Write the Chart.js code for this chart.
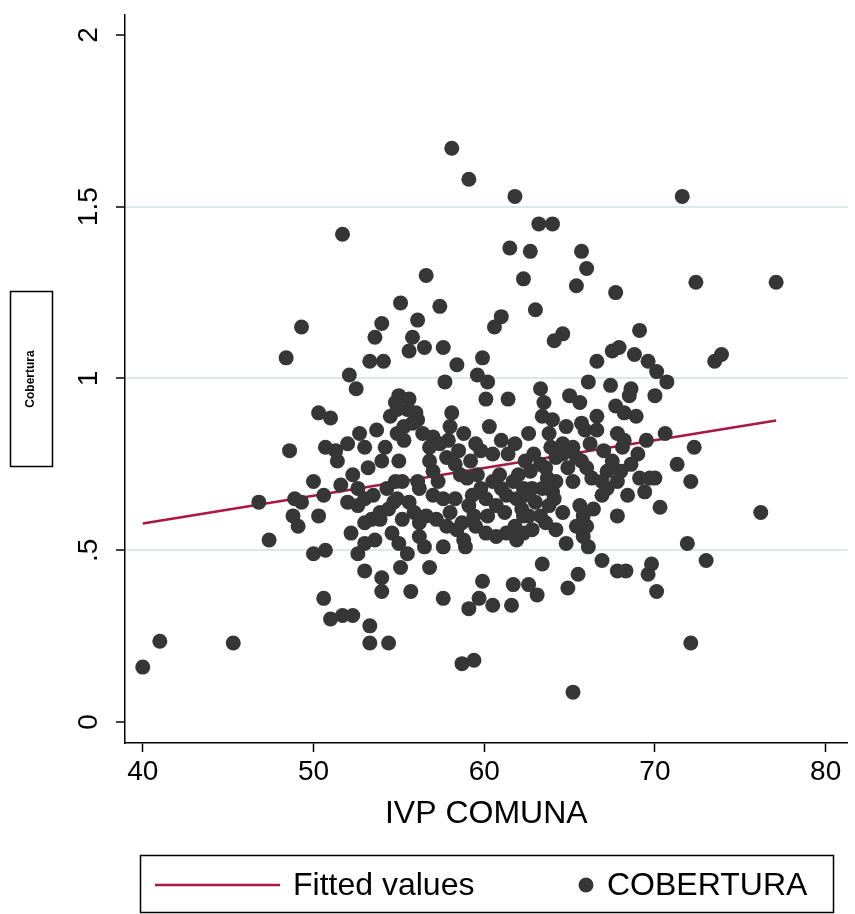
<!DOCTYPE html>
<html>
<head>
<meta charset="utf-8">
<script src="https://cdn.jsdelivr.net/npm/chart.js@4"></script>
<style>
  html, body { margin: 0; padding: 0; background: #fff; }
</style>
</head>
<body>
<canvas id="myChart" width="855" height="914"></canvas>
<script>
// IVP per comuna vs cobertura
var ivp = [
  40.0, 41.0, 45.3, 46.8, 47.4, 49.3, 48.4, 54.0, 53.6, 53.3, 54.1, 52.1, 52.5, 55.0, 55.1,
  57.4, 56.1, 55.8, 55.6, 56.5, 57.6, 61.0, 60.6, 59.9, 59.6, 60.2, 57.7, 58.4, 55.6, 60.1,
  61.4, 62.3, 56.6, 65.4, 67.7, 63.0, 64.1, 64.6, 69.1, 67.5, 67.9, 66.6, 68.8, 69.6, 70.1,
  66.1, 67.4, 63.3, 63.5, 65.0, 65.6, 68.6, 68.5, 70.0, 67.7, 72.4, 77.1, 73.9, 73.5, 70.7,
  50.3, 51.0, 48.6, 50.7, 51.3, 52.0, 51.4, 52.7, 53.7, 54.5, 54.8, 54.0, 50.0, 48.9, 49.3,
  48.8, 50.3, 52.0, 52.6, 53.0, 53.9, 54.7, 54.8, 52.6, 53.4, 54.3, 55.2, 55.5, 56.0, 54.9,
  55.3, 58.1, 58.0, 57.0, 57.4, 56.8, 58.5, 61.0, 59.8, 60.5, 61.4, 59.2, 58.3, 58.6, 59.0,
  57.0, 57.3, 55.2, 56.1, 56.2, 59.8, 60.5, 61.0, 61.7, 60.1, 61.3, 60.7, 62.3, 57.0, 57.6,
  58.3, 54.9, 55.6, 59.1, 59.4, 56.6, 57.2, 56.2, 62.3, 54.9, 56.1, 55.3, 63.4, 64.0, 65.7,
  65.9, 66.6, 66.6, 68.2, 68.9, 67.8, 68.2, 68.1, 69.0, 64.6, 65.2, 64.6, 65.4, 64.2, 65.7,
  63.3, 63.6, 62.4, 67.5, 67.2, 66.3, 66.9, 67.8, 67.2, 66.9, 69.1, 69.7, 69.4, 64.2, 64.0,
  62.8, 63.4, 64.1, 65.6, 65.8, 64.6, 63.3, 62.6, 67.8, 70.3, 70.6, 72.3, 71.3, 70.0, 72.1,
  76.2, 49.1, 50.0, 50.7, 52.2, 53.0, 52.6, 53.0, 53.6, 54.6, 55.0, 55.1, 53.0, 54.0, 54.0,
  50.6, 51.0, 51.7, 52.3, 53.3, 53.3, 54.4, 53.9, 56.2, 56.5, 55.5, 57.6, 58.4, 58.8, 58.9,
  59.5, 60.1, 60.7, 61.3, 61.9, 62.3, 56.8, 55.7, 57.6, 59.9, 61.7, 62.6, 59.7, 59.1, 60.5,
  61.6, 63.4, 63.1, 64.9, 65.5, 66.9, 67.8, 68.3, 66.1, 65.8, 65.4, 62.8, 64.2, 63.6, 69.8,
  69.6, 70.1, 71.9, 73.0, 72.1, 58.7, 59.4, 65.2, 58.1, 59.1, 61.8, 63.2, 64.0, 51.7, 71.6,
  61.5, 62.7, 65.7, 66.0, 59.6, 60.9, 61.9, 62.0, 62.9, 63.9, 64.9, 62.7, 62.4, 63.0,
  55.8, 56.4, 57.9, 58.8, 59.5, 60.3, 61.8, 62.6, 63.8, 64.8, 66.2, 67.0, 68.6, 66.0, 65.2,
  63.7, 62.2, 61.2, 60.2, 58.0, 57.8, 55.9, 54.4, 53.5, 52.3, 53.2, 54.2, 53.0, 56.8, 57.8,
  59.3, 58.7, 61.8, 63.8, 66.4, 68.4, 68.0, 69.5, 66.0, 64.8, 55.0, 51.6, 50.6
];
var cobertura = [
  0.16, 0.235, 0.23, 0.64, 0.53, 1.15, 1.06, 1.16, 1.12, 1.05, 1.05, 1.01, 0.97, 0.95, 1.22,
  1.21, 1.17, 1.12, 1.08, 1.09, 1.09, 1.18, 1.15, 1.06, 1.01, 0.99, 0.99, 1.04, 0.94, 0.94,
  0.94, 1.29, 1.30, 1.27, 1.25, 1.20, 1.11, 1.13, 1.14, 1.08, 1.09, 1.05, 1.07, 1.05, 1.02,
  0.99, 0.98, 0.97, 0.93, 0.95, 0.93, 0.97, 0.95, 0.95, 0.92, 1.28, 1.28, 1.07, 1.05, 0.99,
  0.90, 0.885, 0.79, 0.80, 0.79, 0.81, 0.76, 0.84, 0.85, 0.89, 0.93, 0.76, 0.70, 0.65, 0.64,
  0.60, 0.60, 0.64, 0.68, 0.65, 0.61, 0.64, 0.70, 0.63, 0.59, 0.68, 0.59, 0.91, 0.90, 0.84,
  0.82, 0.90, 0.86, 0.83, 0.81, 0.80, 0.79, 0.82, 0.79, 0.78, 0.78, 0.76, 0.75, 0.72, 0.71,
  0.73, 0.70, 0.70, 0.70, 0.68, 0.68, 0.70, 0.68, 0.70, 0.65, 0.66, 0.63, 0.68, 0.66, 0.65,
  0.65, 0.65, 0.64, 0.63, 0.60, 0.60, 0.59, 0.58, 0.60, 0.91, 0.88, 0.86, 0.89, 0.88, 0.87,
  0.85, 0.89, 0.85, 0.90, 0.89, 0.84, 0.82, 0.80, 0.78, 0.81, 0.80, 0.78, 0.77, 0.77, 0.76,
  0.75, 0.74, 0.76, 0.76, 0.73, 0.71, 0.70, 0.70, 0.68, 0.66, 0.71, 0.71, 0.67, 0.70, 0.67,
  0.68, 0.68, 0.65, 0.63, 0.60, 0.61, 0.60, 0.60, 0.60, 0.625, 0.84, 0.80, 0.75, 0.71, 0.70,
  0.61, 0.57, 0.49, 0.50, 0.55, 0.58, 0.49, 0.52, 0.53, 0.55, 0.52, 0.45, 0.44, 0.42, 0.38,
  0.36, 0.30, 0.31, 0.31, 0.28, 0.23, 0.23, 0.59, 0.54, 0.51, 0.49, 0.51, 0.56, 0.53, 0.51,
  0.57, 0.55, 0.54, 0.55, 0.53, 0.55, 0.45, 0.38, 0.36, 0.41, 0.40, 0.40, 0.36, 0.33, 0.34,
  0.34, 0.46, 0.37, 0.39, 0.43, 0.47, 0.44, 0.44, 0.51, 0.54, 0.57, 0.56, 0.56, 0.58, 0.46,
  0.43, 0.38, 0.52, 0.47, 0.23, 0.17, 0.18, 0.087, 1.67, 1.58, 1.53, 1.45, 1.45, 1.42, 1.53,
  1.38, 1.37, 1.37, 1.32, 0.72, 0.72, 0.65, 0.72, 0.78, 0.80, 0.74, 0.73, 0.66, 0.64,
  0.87, 0.84, 0.82, 0.84, 0.81, 0.86, 0.81, 0.84, 0.84, 0.86, 0.81, 0.79, 0.75, 0.74, 0.70,
  0.71, 0.62, 0.61, 0.60, 0.61, 0.57, 0.61, 0.62, 0.66, 0.72, 0.74, 0.80, 0.80, 0.76, 0.77,
  0.66, 0.58, 0.57, 0.63, 0.62, 0.66, 0.73, 0.82, 0.57, 0.52, 0.76, 0.69, 0.66
];

// fitted line end points (linear fit over the observed range)
var fitX = [40.0, 77.1];
var fitY = [0.578, 0.878];

var xTicks = [40, 50, 60, 70, 80];
var yTicks = [0, 0.5, 1, 1.5, 2];
var yTickLabels = ['0', '.5', '1', '1.5', '2'];

var dotColor = '#363636';
var fitColor = '#ab173f';
var gridColor = '#dde8ea';
var fontFamily = '"Liberation Sans", Arial, sans-serif';

var points = [];
for (var i = 0; i < ivp.length; i++) {
  points.push({x: ivp[i], y: cobertura[i]});
}
var fitted = [];
for (var i = 0; i < fitX.length; i++) {
  fitted.push({x: fitX[i], y: fitY[i]});
}

// y axis title in a box and the boxed legend underneath
var extras = {
  id: 'extras',
  afterDraw: function(chart) {
    var ctx = chart.ctx;
    ctx.save();

    ctx.strokeStyle = '#000';
    ctx.lineWidth = 1.5;
    ctx.strokeRect(10.5, 291.5, 42, 175);
    ctx.translate(31, 379);
    ctx.rotate(-Math.PI / 2);
    ctx.fillStyle = '#000';
    ctx.font = 'bold 12px ' + fontFamily;
    ctx.textAlign = 'center';
    ctx.textBaseline = 'middle';
    ctx.fillText('Cobertura', 0, 0);
    ctx.setTransform(1, 0, 0, 1, 0, 0);

    ctx.strokeRect(140.5, 855.5, 693, 57);
    ctx.strokeStyle = fitColor;
    ctx.lineWidth = 2.5;
    ctx.beginPath();
    ctx.moveTo(155, 885);
    ctx.lineTo(280, 885);
    ctx.stroke();
    ctx.fillStyle = dotColor;
    ctx.beginPath();
    ctx.arc(586, 885, 7.5, 0, Math.PI * 2);
    ctx.fill();
    ctx.fillStyle = '#000';
    ctx.font = '32px ' + fontFamily;
    ctx.textAlign = 'left';
    ctx.textBaseline = 'middle';
    ctx.fillText('Fitted values', 293, 886);
    ctx.fillText('COBERTURA', 607, 886);
    ctx.restore();
  }
};

var canvas = document.getElementById('myChart');
var myChart = new Chart(canvas.getContext('2d'),
{
    type: 'scatter',
    data:
    {
        datasets:
        [{
            label: 'COBERTURA',
            data: points,
            backgroundColor: dotColor,
            borderWidth: 0,
            pointRadius: 7.5,
            pointHoverRadius: 7.5
        },
        {
            type: 'line',
            label: 'Fitted values',
            data: fitted,
            borderColor: fitColor,
            borderWidth: 2.5,
            pointRadius: 0,
            fill: false
        }]
    },
    options:
    {
        responsive: false,
        animation: false,
        layout: {padding: {top: 15, left: 0, right: 0, bottom: 81}},
        plugins: {legend: {display: false}, tooltip: {enabled: false}},
        scales:
        {
            x: {
                type: 'linear',
                min: 38.96,
                max: 81.28,
                afterBuildTicks: function(s) { s.ticks = xTicks.map(function(v) { return {value: v}; }); },
                afterFit: function(s) { s.height = 90; s.paddingLeft = 0; s.paddingRight = 0; },
                ticks: {
                    autoSkip: false,
                    maxRotation: 0,
                    padding: 3,
                    color: '#000',
                    font: {family: fontFamily, size: 28}
                },
                grid: {drawOnChartArea: false, tickLength: 9, tickColor: '#000', tickWidth: 1.5},
                border: {color: '#000', width: 1.5},
                title: {
                    display: true,
                    text: 'IVP COMUNA',
                    color: '#000',
                    padding: {top: 0, bottom: 0},
                    font: {family: fontFamily, size: 32}
                }
            },
            y: {
                type: 'linear',
                min: -0.061,
                max: 2.058,
                afterBuildTicks: function(s) { s.ticks = yTicks.map(function(v) { return {value: v}; }); },
                afterFit: function(s) { s.width = 125; s.paddingTop = 0; s.paddingBottom = 0; },
                ticks: {
                    autoSkip: false,
                    minRotation: 90,
                    maxRotation: 90,
                    crossAlign: 'center',
                    padding: 7,
                    color: '#000',
                    font: {family: fontFamily, size: 28},
                    callback: function(v) { return yTickLabels[yTicks.indexOf(v)]; }
                },
                grid: {
                    color: function(c) {
                        var v = c.tick ? c.tick.value : null;
                        return (v === 0 || v === 2) ? 'rgba(0,0,0,0)' : gridColor;
                    },
                    lineWidth: 2,
                    tickLength: 9,
                    tickColor: '#000',
                    tickWidth: 1.5
                },
                border: {color: '#000', width: 1.5}
            }
        }
    },
    plugins: [extras]
});
</script>
</body>
</html>
